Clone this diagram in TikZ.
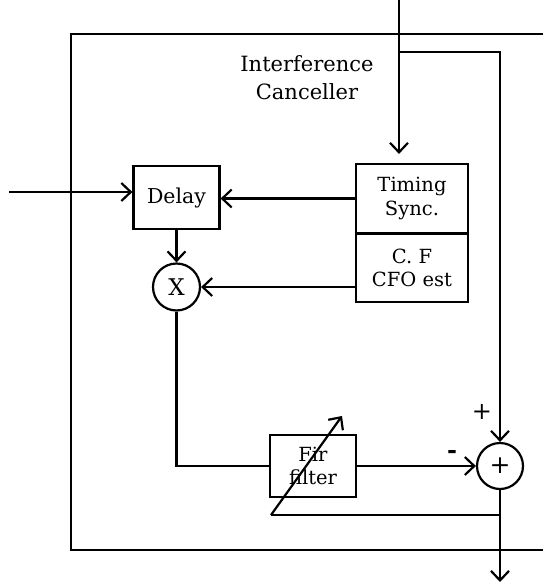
\documentclass[tikz,border=0pt]{standalone}
\usepackage{fontspec}
\setmainfont{DejaVu Serif}
\usetikzlibrary{arrows.meta}
\begin{document}
\begin{tikzpicture}[x=1pt,y=-1pt,
  line width=2.2pt,
  >={Straight Barb[length=9.5pt,width=18pt,line width=2.2pt]},
  blk/.style={draw,line width=2.2pt,inner sep=0pt,align=center,font=\fontsize{19.5}{23.5}\selectfont},
  rnd/.style={draw,circle,line width=2.2pt,inner sep=0pt,font=\fontsize{23}{23}\selectfont},
  lbl/.style={inner sep=0pt}]
\useasboundingbox (0,0) rectangle (543,584);
% frame
\draw (543,34) -- (71,34) -- (71,550) -- (543,550);
% nodes
\node[lbl,align=center,font=\fontsize{21}{28}\selectfont] (title) at (307,78) {Interference\\Canceller};
\node[blk,minimum width=112pt,minimum height=69pt] (timing) at (412,198.5) {Timing\\Sync.};
\node[blk,minimum width=112pt,minimum height=68pt] (cf) at (412,268) {C. F\\CFO est};
\node[blk,minimum width=86pt,minimum height=63pt,font=\fontsize{20.5}{23.5}\selectfont] (delay) at (176.5,197.5) {Delay};
\node[rnd,minimum size=47pt] (mult) at (176.5,287) {X};
\node[blk,minimum width=86pt,minimum height=62pt] (fir) at (313,466) {Fir\\filter};
\node[rnd,minimum size=46pt,font=\fontsize{25}{25}\selectfont] (sum) at (500,466) {+};
\node[lbl,font=\fontsize{24}{24}\selectfont] (plab) at (482,412) {+};
\node[lbl,font=\fontsize{24}{24}\selectfont\bfseries] (mlab) at (452,454) {-};
% coordinates
\coordinate (inT) at (399,0);
\coordinate (br) at (399,52);
\coordinate (inL) at (9,192);
\coordinate (fb) at (500,515);
\coordinate (fbL) at (271,515);
\coordinate (adj) at (342,416);
\coordinate (out) at (500,582);
% connectors
\draw[->,shorten >=9pt] (inT) -- (inT |- timing.north);
\draw[->] (br) -| (sum.north);
\draw[->] (inL) -- (inL -| delay.west);
\draw[->] (timing.west) -- (timing.west -| delay.east);
\draw[->] (delay.south) -- (mult.north);
\draw[->] (mult.east -| cf.west) -- (mult.east);
\draw (mult.south) |- (fir.west);
\draw[->] (fir.east) -- (sum.west);
\draw[->] (sum.south) -- (out);
\draw (fb) -- (fbL);
\draw[->] (fbL) -- (adj);
\end{tikzpicture}
\end{document}
